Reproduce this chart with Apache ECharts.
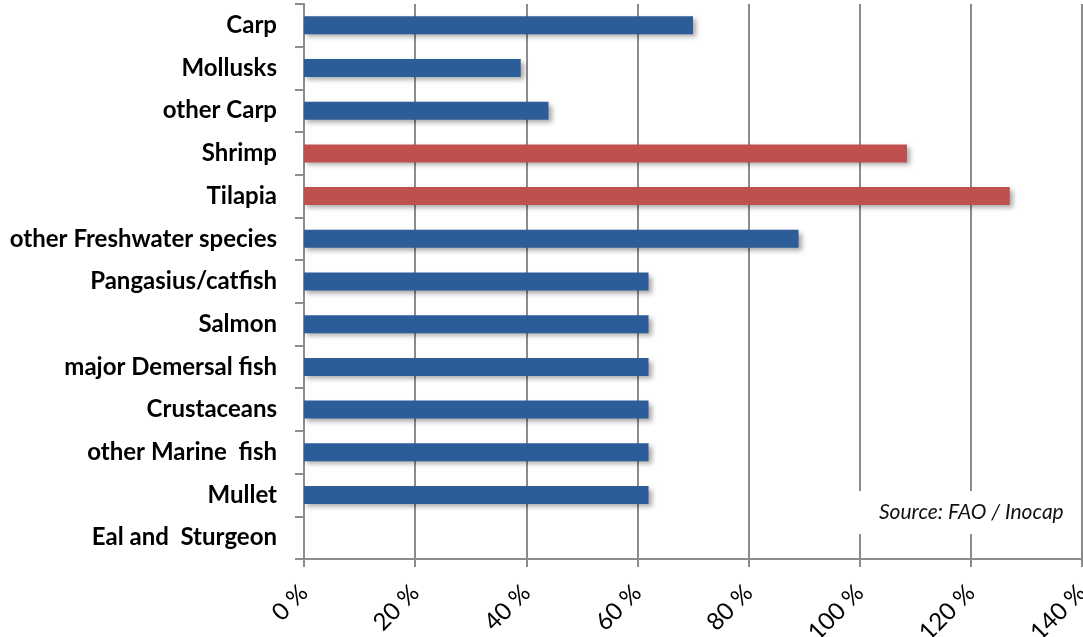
<!DOCTYPE html>
<html>
<head>
<meta charset="utf-8">
<script src="https://cdn.jsdelivr.net/npm/echarts@6/dist/echarts.min.js"></script>
<style>
  html, body { margin: 0; padding: 0; background: #fff; }
  #chart { width: 1083px; height: 637px; }
</style>
</head>
<body>
<div id="chart"></div>
<script>
// Species groups, listed top to bottom
const categories = [
  'Carp', 'Mollusks', 'other Carp', 'Shrimp', 'Tilapia',
  'other Freshwater species', 'Pangasius/catfish', 'Salmon',
  'major Demersal fish', 'Crustaceans', 'other Marine  fish',
  'Mullet', 'Eal and  Sturgeon'
];
// Percentage value per group (no value for the last one)
const values = [70, 39, 44, 108.5, 127, 89, 62, 62, 62, 62, 62, 62, null];
// Groups shown in the highlight colour
const highlighted = ['Shrimp', 'Tilapia'];
// Value axis ticks
const xTicks = { min: 0, max: 140, step: 20 };
const sourceNote = 'Source: FAO / Inocap';

const BLUE = '#2D5D98';
const RED = '#C0504D';
const GRID = '#8C8C8C';

const chart = echarts.init(document.getElementById('chart'), null, { renderer: 'canvas' });

chart.setOption({
  backgroundColor: '#fff',
  animation: false,
  title: {
    text: sourceNote,
    left: 857,
    top: 491,
    padding: [11, 14, 11, 22],
    backgroundColor: '#fff',
    textStyle: {
      fontFamily: 'Lato',
      fontStyle: 'italic',
      fontWeight: 'normal',
      fontSize: 21,
      color: '#111'
    }
  },
  grid: { left: 304, right: 1, top: 4, bottom: 78, containLabel: false, outerBoundsMode: 'none' },
  xAxis: {
    type: 'value',
    min: xTicks.min,
    max: xTicks.max,
    interval: xTicks.step,
    axisLine: { show: true, lineStyle: { color: GRID, width: 2 } },
    axisTick: { show: true, length: 8, lineStyle: { color: GRID, width: 2 } },
    splitLine: { show: true, lineStyle: { color: GRID, width: 2 } },
    axisLabel: {
      formatter: '{value} %',
      rotate: 45,
      margin: 30,
      fontFamily: 'Lato',
      fontSize: 24,
      color: '#000'
    }
  },
  yAxis: {
    type: 'category',
    inverse: true,
    data: categories,
    axisLine: { show: true, lineStyle: { color: GRID, width: 2 } },
    axisTick: { show: true, length: 9, lineStyle: { color: GRID, width: 2 } },
    splitLine: { show: false },
    axisLabel: {
      margin: 27,
      fontFamily: 'Lato',
      fontWeight: 'bold',
      fontSize: 24,
      color: '#000'
    }
  },
  series: [{
    type: 'bar',
    barWidth: 18,
    data: values.map((v, i) => ({
      value: v,
      itemStyle: {
        color: highlighted.includes(categories[i]) ? RED : BLUE
      }
    })),
    itemStyle: {
      shadowColor: 'rgba(0,0,0,0.35)',
      shadowBlur: 5,
      shadowOffsetX: 3,
      shadowOffsetY: 3
    }
  }]
});
</script>
</body>
</html>
